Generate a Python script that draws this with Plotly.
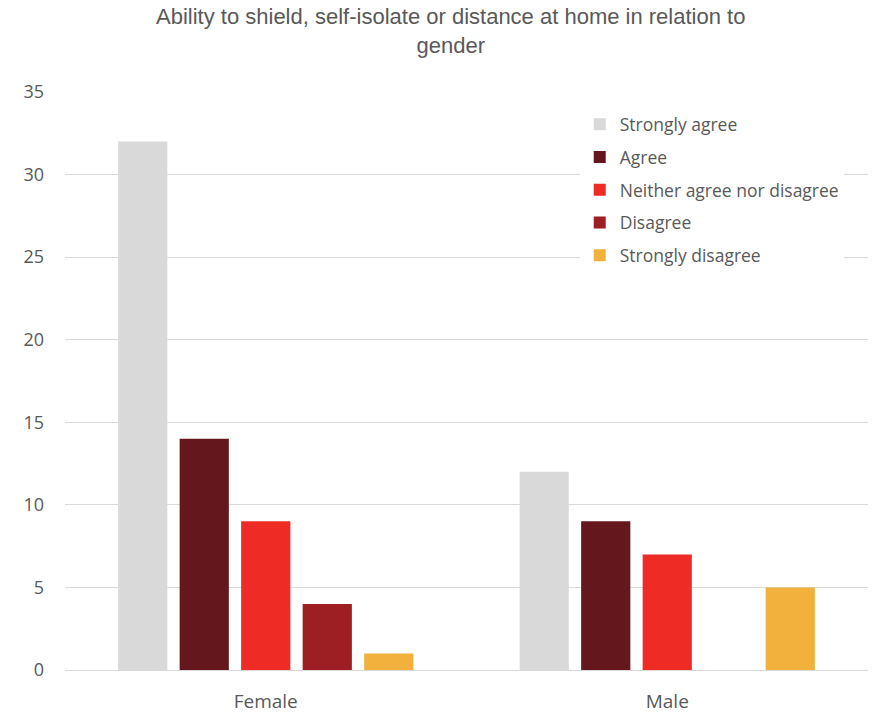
import plotly.graph_objects as go

categories = ["Female", "Male"]
series_names = ["Strongly agree", "Agree", "Neither agree nor disagree", "Disagree", "Strongly disagree"]
strongly_agree = [32, 12]
agree = [14, 9]
neither = [9, 7]
disagree = [4, 0]
strongly_disagree = [1, 5]
colors = ["#D9D9D9", "#64181D", "#EE2B25", "#9E1F23", "#F2B13D"]
y_ticks = [0, 5, 10, 15, 20, 25, 30, 35]
title_text = "Ability to shield, self-isolate or distance at home in relation to<br>gender"

values = [strongly_agree, agree, neither, disagree, strongly_disagree]

fig = go.Figure()
for i, (name, vals, col) in enumerate(zip(series_names, values, colors)):
    fig.add_trace(go.Bar(
        x=categories, y=vals, name=name, marker_color=col,
        marker_line_width=0, legendgroup=f"g{i}",
    ))

font_family = "Open Sans, Liberation Sans, sans-serif"
fig.update_layout(
    width=875, height=713,
    margin=dict(l=65, r=7, t=92, b=43),
    paper_bgcolor="white", plot_bgcolor="white",
    barmode="group", bargap=0.234, bargroupgap=0.2,
    font=dict(family=font_family, color="#595959"),
    legend=dict(
        x=0.641, y=0.975, xanchor="left", yanchor="top",
        bgcolor="rgba(255,255,255,1)",
        font=dict(size=17.5, color="#595959"),
        traceorder="grouped", tracegroupgap=7,
    ),
    xaxis=dict(
        showgrid=False, showline=False, ticks="", automargin=False,
        tickfont=dict(size=19, color="#595959"), ticklabelstandoff=18,
    ),
    yaxis=dict(
        range=[0, 35], tickvals=y_ticks, showgrid=True, gridcolor="#D9D9D9",
        gridwidth=1, zeroline=True, zerolinecolor="#D9D9D9", zerolinewidth=1,
        tickfont=dict(size=18, color="#595959"), ticks="", ticklabelstandoff=20,
        automargin=False,
    ),
    annotations=[dict(
        text=title_text, xref="paper", yref="paper",
        x=0.4795, y=1.106, xanchor="center", yanchor="middle",
        showarrow=False,
        font=dict(family="Liberation Sans, Arial, sans-serif", size=22, color="#595959"),
    )],
)

fig.write_html("out.html")
